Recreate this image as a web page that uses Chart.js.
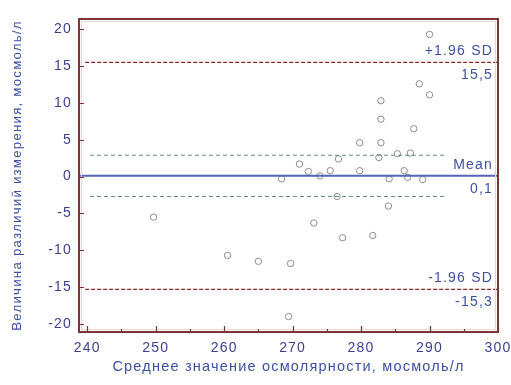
<!DOCTYPE html>
<html>
<head>
<meta charset="utf-8">
<script src="https://cdn.jsdelivr.net/npm/chart.js@4"></script>
<style>
  html, body { margin: 0; padding: 0; background: #fff; }
  #wrap { width: 511px; height: 385px; }
</style>
</head>
<body>
<div id="wrap"><canvas id="ba"></canvas></div>
<script>
// averages (x) and differences (y)
const meanValues = [249.7, 260.5, 265.0, 269.7, 269.4, 273.1, 277.3, 276.5, 281.7, 284.0,
                    282.9, 287.7, 279.8, 282.9, 276.7, 282.6, 285.3, 287.2, 271.0, 272.3,
                    274.0, 275.5, 279.8, 268.4, 284.1, 286.3, 286.8, 289.0, 290.0, 288.5,
                    290.0, 282.9];
const diffValues = [-5.5, -10.7, -11.5, -11.8, -19.0, -6.3, -8.3, -2.7, -8.0, -4.0,
                    7.8, 6.5, 4.6, 4.6, 2.4, 2.6, 3.1, 3.2, 1.7, 0.7,
                    0.1, 0.8, 0.8, -0.3, -0.3, 0.8, -0.1, -0.4, 19.3, 12.6,
                    11.1, 10.3];

const xTicks = [240, 250, 260, 270, 280, 290, 300];
const xMinorTicks = [245, 255, 265, 275, 285, 295];
const yTicks = [-20, -15, -10, -5, 0, 5, 10, 15, 20];

const meanDiff = 0.1;
const upperLoA = 15.5;
const lowerLoA = -15.3;
const ciUpper = 2.9;
const ciLower = -2.7;
const ciRange = [240.4, 292.4];
const loaRange = [239.7, 300];
const meanRange = [238.8, 300];

const refLabels = [
  { value: upperLoA, above: '+1.96 SD', below: '15,5' },
  { value: meanDiff, above: 'Mean', below: '0,1' },
  { value: lowerLoA, above: '-1.96 SD', below: '-15,3' }
];

const points = meanValues.map((x, i) => ({ x: x, y: diffValues[i] }));
const hline = (range, v) => [{ x: range[0], y: v }, { x: range[1], y: v }];

const FONT = '"Liberation Sans", Arial, sans-serif';
const frameColor = '#7d3434';
const SPACING = '1.2px';

// the source picture has wide, spaced-out lettering
const spacing = {
  id: 'spacing',
  beforeUpdate(chart) { chart.ctx.letterSpacing = SPACING; },
  beforeDraw(chart) { chart.ctx.letterSpacing = SPACING; }
};

// frame, inward ticks and right side labels
const decor = {
  id: 'decor',
  afterDatasetsDraw(chart) {
    const ctx = chart.ctx;
    const a = chart.chartArea;
    const xs = chart.scales.x, ys = chart.scales.y;
    ctx.save();
    ctx.strokeStyle = '#ecd2d2';
    ctx.lineWidth = 1;
    ctx.strokeRect(a.left + 2.5, a.top + 2.5, a.right - a.left - 5, a.bottom - a.top - 5);
    ctx.strokeStyle = frameColor;
    ctx.lineWidth = 2;
    ctx.strokeRect(a.left, a.top, a.right - a.left, a.bottom - a.top);
    ctx.lineWidth = 1.2;
    ctx.beginPath();
    xTicks.forEach(v => {
      const px = Math.round(xs.getPixelForValue(v)) + 0.5;
      ctx.moveTo(px, a.bottom); ctx.lineTo(px, a.bottom - 6);
    });
    xMinorTicks.forEach(v => {
      const px = Math.round(xs.getPixelForValue(v)) + 0.5;
      ctx.moveTo(px, a.bottom); ctx.lineTo(px, a.bottom - 3);
    });
    yTicks.forEach(v => {
      const py = Math.round(ys.getPixelForValue(v)) + 0.5;
      ctx.moveTo(a.left, py); ctx.lineTo(a.left + 5, py);
    });
    ctx.stroke();

    ctx.fillStyle = '#3f4fa8';
    ctx.font = '14px ' + FONT;
    ctx.letterSpacing = SPACING;
    ctx.textAlign = 'right';
    refLabels.forEach(l => {
      const py = ys.getPixelForValue(l.value);
      ctx.textBaseline = 'bottom';
      ctx.fillText(l.above, a.right - 5, py - 4);
      ctx.textBaseline = 'top';
      ctx.fillText(l.below, a.right - 5, py + 6);
    });
    ctx.restore();
  }
};

new Chart(document.getElementById('ba'), {
  type: 'scatter',
  data: {
    datasets: [
      {
        data: hline(meanRange, meanDiff), showLine: true, pointRadius: 0,
        borderColor: '#5563b8', borderWidth: 2
      },
      {
        data: hline(loaRange, upperLoA), showLine: true, pointRadius: 0,
        borderColor: '#8a2a2a', borderWidth: 1.3, borderDash: [4, 2]
      },
      {
        data: hline(loaRange, lowerLoA), showLine: true, pointRadius: 0,
        borderColor: '#8a2a2a', borderWidth: 1.3, borderDash: [4, 2]
      },
      {
        data: hline(ciRange, ciUpper), showLine: true, pointRadius: 0,
        borderColor: '#6a8a74', borderWidth: 1, borderDash: [4, 3]
      },
      {
        data: hline(ciRange, ciLower), showLine: true, pointRadius: 0,
        borderColor: '#6a8a74', borderWidth: 1, borderDash: [4, 3]
      },
      {
        data: points, pointRadius: 3.2, pointBorderWidth: 1,
        pointBorderColor: '#8c8c8c', pointBackgroundColor: 'rgba(255,255,255,0)'
      }
    ]
  },
  options: {
    responsive: true,
    maintainAspectRatio: false,
    animation: false,
    layout: { padding: { left: 0, right: 13, top: 19, bottom: 0 } },
    plugins: { legend: { display: false }, tooltip: { enabled: false } },
    scales: {
      x: {
        type: 'linear', min: 238.8, max: 300,
        afterBuildTicks: s => { s.ticks = xTicks.map(v => ({ value: v })); },
        afterFit: s => { s.height = 53; s.paddingLeft = 0; s.paddingRight = 0; },
        grid: { display: false, drawTicks: false },
        border: { display: false },
        ticks: { color: '#3d3f8c', font: { family: FONT, size: 14 }, padding: 8, maxRotation: 0 },
        title: {
          display: true, text: 'Среднее значение осмолярности, мосмоль/л',
          color: '#3c4fa6', font: { family: FONT, size: 14.5 }, padding: { top: 2, bottom: 9 }
        }
      },
      y: {
        type: 'linear', min: -21.1, max: 21.4,
        afterBuildTicks: s => { s.ticks = yTicks.map(v => ({ value: v })); },
        afterFit: s => { s.width = 79; s.paddingTop = 0; s.paddingBottom = 0; },
        grid: { display: false, drawTicks: false },
        border: { display: false },
        ticks: { color: '#3d3f8c', font: { family: FONT, size: 14 }, padding: 7 },
        title: {
          display: true, text: 'Величина различий измерения, мосмоль/л',
          color: '#3c4fa6', font: { family: FONT, size: 13.3 }, padding: { top: 9, bottom: 2 }
        }
      }
    }
  },
  plugins: [spacing, decor]
});
</script>
</body>
</html>
